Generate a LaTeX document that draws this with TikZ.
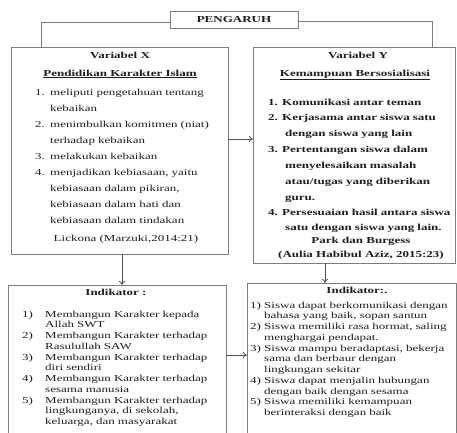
\documentclass[tikz,border=0pt]{standalone}
\usepackage{fontspec}
\setmainfont{Liberation Serif}[FakeStretch=1.42]
\usetikzlibrary{arrows.meta}
\definecolor{boxgray}{RGB}{125,125,125}
\definecolor{arrgray}{RGB}{80,80,80}
\definecolor{txtcol}{RGB}{30,30,30}
\newcommand\myitem[2]{\makebox[#1][l]{#2}}
\begin{document}
\begin{tikzpicture}[x=1bp,y=-1bp,
  box/.style={draw=boxgray, line width=0.8bp, inner sep=0, outer sep=0, anchor=north west},
  conn/.style={draw=boxgray, line width=0.8bp},
  arr/.style={draw=arrgray, line width=0.8bp, -{To[length=4bp,width=6bp]}},
  wide/.style={inner sep=0, text=txtcol, font=\fontsize{9.2}{16.1}\selectfont},
  tight/.style={inner sep=0, text=txtcol, font=\fontsize{9.2}{10.8}\selectfont},
  listnode/.style={anchor=base west, text width=230bp, align=left}]
\useasboundingbox (0,0) rectangle (457,432);
\fill[white] (0,0) rectangle (457,432);
% boxes
\node[box, minimum width=128bp, minimum height=17bp, font=\fontsize{9.2}{11}\selectfont\bfseries, text=txtcol] (pg) at (170,11) {PENGARUH};
\node[box, minimum width=217bp, minimum height=207bp] (vx) at (11,47) {};
\node[box, minimum width=202bp, minimum height=216bp] (vy) at (253,47) {};
\node[box, minimum width=218bp, minimum height=170bp] (ix) at (8,285) {};
\node[box, minimum width=209bp, minimum height=170bp] (iy) at (247,283) {};
% connectors
\coordinate (xl) at (41,47);
\coordinate (yr) at (432,47);
\coordinate (hx) at (0,139);
\coordinate (hi) at (0,355);
\coordinate (dx) at (122,0);
\coordinate (dy) at (325,0);
\draw[conn] ([yshift=-2.5bp]pg.west) -| (xl);
\draw[conn] ([yshift=-1.5bp]pg.east) -| (yr);
\draw[arr] (vx.east |- hx) -- (vy.west |- hx);
\draw[arr] (ix.east |- hi) -- (iy.west |- hi);
\draw[arr] (vx.south -| dx) -- (ix.north -| dx);
\draw[arr] (vy.south -| dy) -- (iy.north -| dy);
% Variabel X
\node[wide, anchor=base, font=\fontsize{9.2}{16.1}\selectfont\bfseries] (tx1) at (120,58) {Variabel X};
\node[wide, anchor=base, font=\fontsize{9.2}{16.1}\selectfont\bfseries] (tx2) at (120,76) {\underline{Pendidikan Karakter Islam}};
\node[wide, listnode] (lx) at (35,95) {%
\myitem{15bp}{1.}meliputi pengetahuan tentang\\
\hspace*{15bp}kebaikan\\
\myitem{15bp}{2.}menimbulkan komitmen (niat)\\
\hspace*{15bp}terhadap kebaikan\\
\myitem{15bp}{3.}melakukan kebaikan\\
\myitem{15bp}{4.}menjadikan kebiasaan, yaitu\\
\hspace*{15bp}kebiasaan dalam pikiran,\\
\hspace*{15bp}kebiasaan dalam hati dan\\
\hspace*{15bp}kebiasaan dalam tindakan};
\node[wide, anchor=base] (srcx) at (126,241) {Lickona (Marzuki,2014:21)};
% Variabel Y
\node[wide, anchor=base, font=\fontsize{9.2}{16.1}\selectfont\bfseries] (ty1) at (358,58) {Variabel Y};
\node[wide, anchor=base, font=\fontsize{9.2}{16.1}\selectfont\bfseries] (ty2) at (355,76) {\underline{Kemampuan Bersosialisasi}};
\node[wide, listnode, font=\fontsize{9.2}{16}\selectfont\bfseries] (ly) at (268,105) {%
\myitem{14bp}{1.}Komunikasi antar teman\\
\myitem{14bp}{2.}Kerjasama antar siswa satu\\
\hspace*{17bp}dengan siswa yang lain\\
\myitem{14bp}{3.}Pertentangan siswa dalam\\
\hspace*{17bp}menyelesaikan masalah\\
\hspace*{17bp}atau/tugas yang diberikan\\
\hspace*{17bp}guru.};
\node[wide, listnode, font=\fontsize{9.2}{15.5}\selectfont\bfseries] (ly4) at (268,215) {%
\myitem{14bp}{4.}Persesuaian hasil antara siswa\\
\hspace*{17bp}satu dengan siswa yang lain.};
\node[wide, anchor=base, font=\fontsize{9.2}{16.1}\selectfont\bfseries] (srcy1) at (361,243) {Park dan Burgess};
\node[wide, anchor=base, font=\fontsize{9.2}{16.1}\selectfont\bfseries] (srcy2) at (361,257) {(Aulia Habibul Aziz, 2015:23)};
% Indikator X
\node[tight, anchor=base, font=\fontsize{9.2}{10.8}\selectfont\bfseries] (ixt) at (116,295) {Indikator :};
\node[tight, listnode] (lix) at (22,317) {%
\myitem{23bp}{1)}Membangun Karakter kepada\\
\hspace*{23bp}Allah SWT\\
\myitem{23bp}{2)}Membangun Karakter terhadap\\
\hspace*{23bp}Rasulullah SAW\\
\myitem{23bp}{3)}Membangun Karakter terhadap\\
\hspace*{23bp}diri sendiri\\
\myitem{23bp}{4)}Membangun Karakter terhadap\\
\hspace*{23bp}sesama manusia\\
\myitem{23bp}{5)}Membangun Karakter terhadap\\
\hspace*{23bp}lingkunganya, di sekolah,\\
\hspace*{23bp}keluarga, dan masyarakat};
% Indikator Y
\node[tight, anchor=base, font=\fontsize{9.2}{10.8}\selectfont\bfseries] (iyt) at (357,293) {Indikator:.};
\node[tight, listnode] (liy) at (250,308) {%
\myitem{14bp}{1)}Siswa dapat berkomunikasi dengan\\
\hspace*{14bp}bahasa yang baik, sopan santun\\
\myitem{14bp}{2)}Siswa memiliki rasa hormat, saling\\
\hspace*{14bp}menghargai pendapat.\\
\myitem{14bp}{3)}Siswa mampu beradaptasi, bekerja\\
\hspace*{14bp}sama dan berbaur dengan\\
\hspace*{14bp}lingkungan sekitar\\
\myitem{14bp}{4)}Siswa dapat menjalin hubungan\\
\hspace*{14bp}dengan baik dengan sesama\\
\myitem{14bp}{5)}Siswa memiliki kemampuan\\
\hspace*{14bp}berinteraksi dengan baik};
\end{tikzpicture}
\end{document}
